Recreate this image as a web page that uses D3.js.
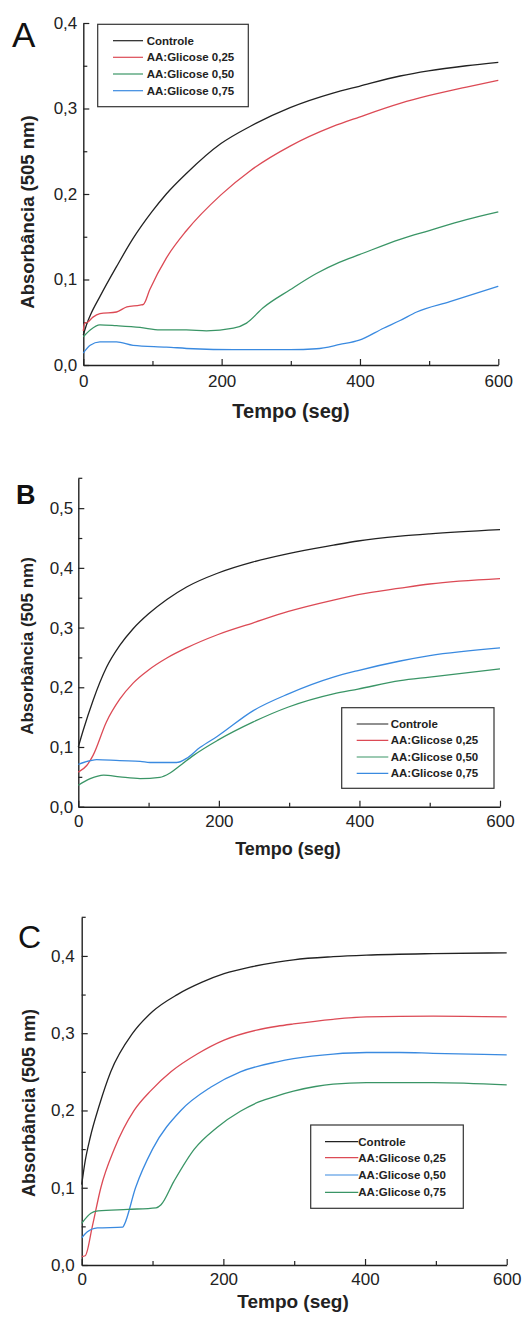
<!DOCTYPE html>
<html><head><meta charset="utf-8">
<script src="https://cdn.jsdelivr.net/npm/d3@7"></script>
<style>body{margin:0;background:#fff}svg{display:block}</style>
</head><body>
<svg id="c" width="526" height="1323"></svg>
<script>
// ---------- DATA ----------
const seriesLabelsAB = ["Controle", "AA:Glicose 0,25", "AA:Glicose 0,50", "AA:Glicose 0,75"];
const seriesLabelsC = ["Controle", "AA:Glicose 0,25", "AA:Glicose 0,50", "AA:Glicose 0,75"];
const xTicks = [0, 200, 400, 600];

// Panel A  [tempo (s), absorbância]
const A_controle = [[0,0.035],[5,0.048],[10,0.058],[24,0.08],[48,0.115],[72,0.148],[99,0.179],[120,0.2],[149,0.224],[199,0.259],[241,0.279],[299,0.301],[361,0.318],[399,0.326],[458,0.338],[499,0.344],[554,0.35],[600,0.354]];
const A_g025 = [[0,0.040],[2,0.049],[6,0.05],[14,0.056],[24,0.06],[48,0.062],[63,0.068],[82,0.07],[87,0.071],[96,0.088],[120,0.125],[149,0.157],[199,0.199],[241,0.227],[299,0.256],[361,0.279],[399,0.29],[458,0.306],[499,0.315],[554,0.325],[600,0.333]];
const A_g050 = [[0,0.033],[10,0.041],[24,0.047],[48,0.046],[82,0.044],[111,0.041],[149,0.041],[178,0.04],[217,0.043],[236,0.049],[260,0.067],[299,0.088],[337,0.107],[370,0.12],[399,0.129],[458,0.147],[499,0.157],[554,0.17],[600,0.179]];
const A_g075 = [[0,0.014],[10,0.023],[24,0.027],[48,0.027],[72,0.023],[120,0.021],[159,0.019],[217,0.018],[299,0.018],[337,0.019],[371,0.024],[399,0.029],[434,0.043],[458,0.052],[482,0.062],[530,0.074],[600,0.092]];

// Panel B
const B_controle = [[0,0.1],[7,0.128],[21,0.178],[40,0.233],[59,0.27],[78,0.298],[100,0.323],[126,0.347],[154,0.368],[198,0.391],[249,0.41],[299,0.424],[363,0.438],[398,0.445],[458,0.453],[500,0.457],[600,0.464]];
const B_g025 = [[0,0.058],[12,0.069],[21,0.086],[40,0.142],[59,0.18],[78,0.207],[100,0.229],[126,0.249],[154,0.266],[198,0.288],[249,0.308],[299,0.327],[363,0.346],[398,0.355],[458,0.366],[500,0.373],[600,0.382]];
const B_g050 = [[0,0.036],[17,0.047],[36,0.053],[59,0.05],[88,0.047],[116,0.049],[130,0.056],[145,0.069],[164,0.086],[198,0.111],[249,0.142],[299,0.167],[363,0.189],[398,0.197],[458,0.211],[500,0.217],[600,0.231]];
const B_g075 = [[0,0.071],[17,0.077],[26,0.079],[59,0.077],[88,0.076],[102,0.074],[140,0.074],[154,0.081],[173,0.099],[198,0.118],[249,0.161],[299,0.189],[363,0.217],[398,0.228],[458,0.244],[500,0.253],[600,0.266]];

// Panel C
const C_controle = [[0,0.104],[5,0.135],[12,0.165],[25,0.207],[41,0.25],[72,0.3],[100,0.328],[135,0.35],[170,0.366],[201,0.377],[240,0.386],[276,0.392],[299,0.395],[355,0.399],[402,0.401],[496,0.403],[600,0.404]];
const C_g025 = [[0,0.011],[5,0.012],[15,0.05],[27,0.1],[46,0.15],[74,0.2],[98,0.226],[126,0.25],[163,0.273],[201,0.291],[247,0.304],[276,0.309],[299,0.312],[355,0.318],[402,0.321],[496,0.322],[600,0.321]];
const C_g050 = [[0,0.035],[8,0.043],[22,0.048],[58,0.049],[60,0.052],[76,0.1],[100,0.15],[140,0.2],[182,0.23],[224,0.25],[276,0.263],[299,0.267],[355,0.273],[402,0.275],[449,0.275],[496,0.274],[600,0.272]];
const C_g075 = [[0,0.054],[13,0.067],[23,0.07],[65,0.072],[105,0.074],[112,0.078],[130,0.108],[159,0.15],[191,0.178],[224,0.199],[250,0.211],[276,0.219],[299,0.225],[330,0.231],[355,0.234],[402,0.236],[496,0.236],[600,0.233]];

// ---------- STYLE ----------
const BLACK = "#222", RED = "#dc4a55", GREEN = "#3a9566", BLUE = "#3a8ae0";
const fmt = d => d3.format(".1f")(d).replace(".", ",");

const svg = d3.select("#c");

const panels = [
  {letter:"A", letterX:12, letterY:47, letterSize:35, letterWeight:"normal",
   x0:83.3, x1:498.3, yBot:365, yTop:23, yMax:0.4, yTicks:[0,0.1,0.2,0.3,0.4],
   series:[A_controle, A_g025, A_g050, A_g075], colors:[BLACK,RED,GREEN,BLUE], labels:seriesLabelsAB,
   yTitleX:34, yTitleY:212, yTitleSize:18.5, xTitleY:418, xTitleX:291, xTitleSize:20,
   leg:{x:97.7,y:24.3,w:150.6,h:82.4,lx0:113,lx1:143,tx:146.7,rows:[40.7,57.3,74,90.7]},
   tickSize:17, yLabGap:6, xLabDy:22},
  {letter:"B", letterX:16, letterY:504, letterSize:27, letterWeight:"bold",
   x0:78.3, x1:500, yBot:806.7, yTop:478.3, yMax:0.55, yTicks:[0,0.1,0.2,0.3,0.4,0.5],
   series:[B_controle, B_g025, B_g050, B_g075], colors:[BLACK,RED,GREEN,BLUE], labels:seriesLabelsAB,
   yTitleX:33, yTitleY:646, yTitleSize:17, xTitleY:855, xTitleX:288, xTitleSize:18,
   leg:{x:341.7,y:707.7,w:152.3,h:80.6,lx0:356.7,lx1:388.3,tx:390.7,rows:[724,740.3,757,773.3]},
   tickSize:17, yLabGap:5, xLabDy:20},
  {letter:"C", letterX:18, letterY:948, letterSize:32, letterWeight:"normal",
   x0:81.7, x1:506.7, yBot:1265, yTop:917.3, yMax:0.45, yTicks:[0,0.1,0.2,0.3,0.4],
   series:[C_controle, C_g025, C_g050, C_g075], colors:[BLACK,RED,BLUE,GREEN], labels:seriesLabelsC,
   yTitleX:34.5, yTitleY:1103, yTitleSize:18, xTitleY:1308, xTitleX:293, xTitleSize:19,
   leg:{x:310.7,y:1125,w:152.6,h:83.3,lx0:325,lx1:358.3,tx:358.3,rows:[1141.7,1157.7,1175,1192.3]},
   tickSize:17, yLabGap:7, xLabDy:20}
];

const FONT = "'Liberation Sans', Arial, sans-serif";

panels.forEach(p => {
  const x = d3.scaleLinear().domain([0,600]).range([p.x0,p.x1]);
  const y = d3.scaleLinear().domain([0,p.yMax]).range([p.yBot,p.yTop]);
  const g = svg.append("g");

  const xMinor = d3.range(100, 600, 200);
  const yMinor = d3.range(0.05, p.yMax, 0.1).filter(v => Math.abs(v*10 - Math.round(v*10)) > 0.01);

  // x axis
  const xAxis = d3.axisBottom(x).tickValues(xTicks).tickSize(-6).tickSizeOuter(0).tickFormat(d3.format("d"));
  const gx = g.append("g").attr("transform",`translate(0,${p.yBot})`).call(xAxis);
  gx.selectAll("text").attr("font-size",p.tickSize).attr("font-family",FONT).attr("fill","#222").attr("dy",null).attr("y",p.xLabDy);
  const xAxisMinor = d3.axisBottom(x).tickValues(xMinor).tickSize(-4).tickSizeOuter(0).tickFormat("");
  g.append("g").attr("transform",`translate(0,${p.yBot})`).call(xAxisMinor).select(".domain").remove();

  // y axis
  const yAxis = d3.axisLeft(y).tickValues(p.yTicks).tickSize(-6).tickSizeOuter(0).tickFormat(fmt);
  const gy = g.append("g").attr("transform",`translate(${p.x0},0)`).call(yAxis);
  gy.selectAll("text").attr("font-size",p.tickSize).attr("font-family",FONT).attr("fill","#222").attr("x",-p.yLabGap);
  const yAxisMinor = d3.axisLeft(y).tickValues(yMinor).tickSize(-4).tickSizeOuter(0).tickFormat("");
  g.append("g").attr("transform",`translate(${p.x0},0)`).call(yAxisMinor).select(".domain").remove();

  g.selectAll(".domain").attr("stroke","#222").attr("stroke-width",1.4);
  g.selectAll(".tick line").attr("stroke","#222").attr("stroke-width",1.2);
  if (p.yMax > p.yTicks[p.yTicks.length-1] + 1e-9) {
    g.append("line").attr("x1",p.x0).attr("x2",p.x0+4).attr("y1",y(p.yMax)).attr("y2",y(p.yMax)).attr("stroke","#222").attr("stroke-width",1.2);
  }

  // lines
  const line = d3.line().x(d=>x(d[0])).y(d=>y(d[1])).curve(d3.curveMonotoneX);
  p.series.forEach((s,i) => {
    g.append("path").datum(s).attr("d",line).attr("fill","none")
      .attr("stroke",p.colors[i]).attr("stroke-width",1.3);
  });

  // panel letter
  g.append("text").attr("x",p.letterX).attr("y",p.letterY).text(p.letter)
    .attr("font-family",FONT).attr("font-size",p.letterSize).attr("font-weight",p.letterWeight).attr("fill","#111");

  // axis titles
  g.append("text").attr("transform",`translate(${p.yTitleX},${p.yTitleY}) rotate(-90)`)
    .attr("text-anchor","middle").attr("font-family",FONT).attr("font-weight","bold")
    .attr("font-size",p.yTitleSize).attr("fill","#222").text("Absorbância (505 nm)");
  g.append("text").attr("x",p.xTitleX).attr("y",p.xTitleY).attr("text-anchor","middle")
    .attr("font-family",FONT).attr("font-weight","bold").attr("font-size",p.xTitleSize).attr("fill","#222").text("Tempo (seg)");

  // legend
  const L = p.leg;
  g.append("rect").attr("x",L.x).attr("y",L.y).attr("width",L.w).attr("height",L.h)
    .attr("fill","#fff").attr("stroke","#333").attr("stroke-width",1.2);
  p.labels.forEach((lab,i) => {
    g.append("line").attr("x1",L.lx0).attr("x2",L.lx1).attr("y1",L.rows[i]).attr("y2",L.rows[i])
      .attr("stroke",p.colors[i]).attr("stroke-width",1.2);
    g.append("text").attr("x",L.tx).attr("y",L.rows[i]).attr("dy","0.35em")
      .attr("font-family",FONT).attr("font-weight","bold").attr("font-size",11.5).attr("fill","#222").text(lab);
  });
});
</script>
</body></html>
